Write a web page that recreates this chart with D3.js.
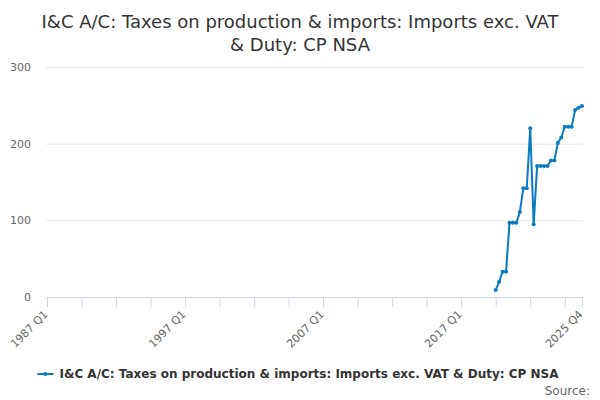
<!DOCTYPE html>
<html>
<head>
<meta charset="utf-8">
<script src="https://cdn.jsdelivr.net/npm/d3@7"></script>
<style>
  html, body { margin: 0; padding: 0; background: #fff; }
  svg { display: block; font-family: "DejaVu Sans", sans-serif; }
</style>
</head>
<body>
<div id="chart"></div>
<script>
// Quarterly series, £m
const titleLines = ["I&C A/C: Taxes on production & imports: Imports exc. VAT", "& Duty: CP NSA"];
const seriesName = "I&C A/C: Taxes on production & imports: Imports exc. VAT & Duty: CP NSA";

const periods = [
  "2019 Q3","2019 Q4","2020 Q1","2020 Q2","2020 Q3","2020 Q4","2021 Q1","2021 Q2",
  "2021 Q3","2021 Q4","2022 Q1","2022 Q2","2022 Q3","2022 Q4","2023 Q1","2023 Q2",
  "2023 Q3","2023 Q4","2024 Q1","2024 Q2","2024 Q3","2024 Q4","2025 Q1","2025 Q2",
  "2025 Q3","2025 Q4"
];
const values = [
  9, 20, 33, 33, 97, 97, 97, 111,
  142, 142, 220, 95, 171, 171, 171, 171,
  178, 178, 201, 208, 222, 222, 222, 244,
  247, 249
];

const axisStart = "1987 Q1";
const axisEnd   = "2025 Q4";
const tickLabels = ["1987 Q1", "1997 Q1", "2007 Q1", "2017 Q1", "2025 Q4"];
const yTicks = [0, 100, 200, 300];

const COLOR = "#0a7bc1";

// "2019 Q3" -> quarter count
const qNum = s => { const [y, q] = s.split(" Q"); return +y * 4 + (+q - 1); };
const i0 = qNum(axisStart), i1 = qNum(axisEnd);

const width = 600, height = 400;
const margin = { top: 67, right: 18, bottom: 103, left: 47 };

const svg = d3.select("#chart").append("svg")
  .attr("width", width).attr("height", height);

const x = d3.scaleLinear()
  .domain([i0, i1])
  .range([margin.left, width - margin.right]);

const y = d3.scaleLinear()
  .domain([0, 300])
  .range([height - margin.bottom, margin.top]);

// Title
svg.append("text")
  .attr("x", width / 2).attr("y", 28)
  .attr("text-anchor", "middle")
  .attr("font-size", 18).attr("fill", "#333")
  .selectAll("tspan").data(titleLines).join("tspan")
  .attr("x", width / 2)
  .attr("dy", (d, i) => i ? 23 : 0)
  .text(d => d);

// Grid ngang + nhãn trục Y
const yg = svg.append("g")
  .attr("transform", `translate(${margin.left - 1},0)`)
  .call(d3.axisLeft(y).tickValues(yTicks).tickSize(-(width - margin.left - margin.right + 2)).tickPadding(15))
  .call(g => g.select(".domain").remove());
yg.selectAll("line").attr("stroke", "#e6e6e6");
yg.selectAll("text").attr("font-size", 11).attr("fill", "#666").attr("font-family", "DejaVu Sans, sans-serif");

// Trục X
const tickVals = d3.range(i0, i1 - 4, 10).concat([i1]);
const fmtQ = v => `${Math.floor(v / 4)} Q${(v % 4) + 1}`;
const xg = svg.append("g")
  .attr("transform", `translate(0,${y(0)})`)
  .call(d3.axisBottom(x).tickValues(tickVals).tickSize(10).tickSizeOuter(0)
    .tickFormat(v => tickLabels.includes(fmtQ(v)) ? fmtQ(v) : ""));
xg.select(".domain").attr("stroke", "#ccd6eb");
xg.selectAll("line").attr("stroke", "#ccd6eb");
xg.selectAll("text")
  .attr("font-size", 11).attr("fill", "#666").attr("font-family", "DejaVu Sans, sans-serif")
  .attr("text-anchor", "end")
  .attr("dy", null)
  .attr("y", 0)
  .attr("transform", "translate(1,18) rotate(-45)");

// Đường dữ liệu
const pts = periods.map((p, i) => ({ q: qNum(p), v: values[i] }));
svg.append("path")
  .datum(pts)
  .attr("fill", "none")
  .attr("stroke", COLOR)
  .attr("stroke-width", 2)
  .attr("stroke-linejoin", "round")
  .attr("d", d3.line().x(d => x(d.q)).y(d => y(d.v)));

svg.append("g").selectAll("circle")
  .data(pts).join("circle")
  .attr("cx", d => x(d.q)).attr("cy", d => y(d.v))
  .attr("r", 2).attr("fill", COLOR);

// Legend
const leg = svg.append("g");
const legText = leg.append("text")
  .attr("y", 378)
  .attr("font-size", 12).attr("font-weight", "bold").attr("fill", "#333")
  .text(seriesName);
const tw = legText.node().getComputedTextLength();
const lx = (width - (tw + 22)) / 2 - 2;
legText.attr("x", lx + 22);
leg.append("line")
  .attr("x1", lx).attr("x2", lx + 16)
  .attr("y1", 374).attr("y2", 374)
  .attr("stroke", COLOR).attr("stroke-width", 2);
leg.append("circle")
  .attr("cx", lx + 8).attr("cy", 374).attr("r", 2).attr("fill", COLOR);

// Source
svg.append("text")
  .attr("x", width - 10).attr("y", 395)
  .attr("text-anchor", "end")
  .attr("font-size", 12).attr("fill", "#666")
  .text("Source:");
</script>
</body>
</html>
